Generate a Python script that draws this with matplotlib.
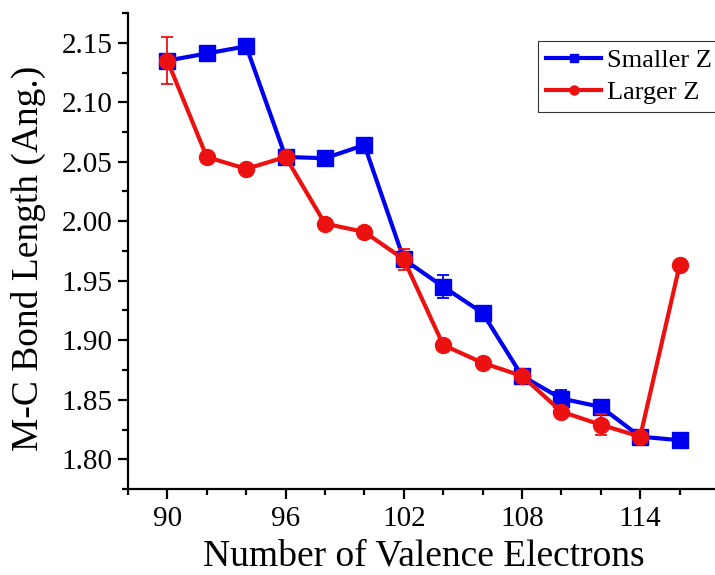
import matplotlib
matplotlib.use("Agg")
import matplotlib.pyplot as plt
from matplotlib.lines import Line2D
from matplotlib.ticker import MultipleLocator

plt.rcParams['font.family'] = ['Liberation Serif', 'DejaVu Serif']

# number of valence electrons
electrons = [90, 92, 94, 96, 98, 100, 102, 104, 106, 108, 110, 112, 114, 116]

# bond lengths (Ang.)
smaller_z = [2.135, 2.141, 2.147, 2.054, 2.053, 2.064, 1.968,
             1.945, 1.923, 1.870, 1.851, 1.844, 1.819, 1.816]
larger_z = [2.135, 2.054, 2.044, 2.054, 1.998, 1.991, 1.968,
            1.896, 1.881, 1.870, 1.840, 1.829, 1.819, 1.963]

# error bars (only some points have them)
smaller_err = [0, 0, 0, 0, 0, 0, 0, 0.0095, 0, 0, 0.007, 0, 0, 0]
larger_err = [0.020, 0, 0, 0, 0, 0, 0.009, 0, 0, 0, 0, 0.009, 0, 0]

blue = "#0000f0"
red = "#ec1111"

fig = plt.figure(figsize=(7.15, 5.75), dpi=100)
ax = fig.add_axes([128/715, 86/575, 591/715, 476/575])

ax.errorbar(electrons, smaller_z, yerr=smaller_err, color=blue, marker="s",
            markersize=11, linewidth=3, elinewidth=1.3, capsize=4.5,
            capthick=1.3, zorder=2)
ax.errorbar(electrons, larger_z, yerr=larger_err, color=red, marker="o",
            markersize=11.5, linewidth=3, elinewidth=1.3, capsize=4.5,
            capthick=1.3, zorder=3)

ax.set_xlim(88, 118)
ax.set_ylim(1.775, 2.175)
ax.xaxis.set_major_locator(MultipleLocator(6))
ax.xaxis.set_minor_locator(MultipleLocator(2))
ax.yaxis.set_major_locator(MultipleLocator(0.05))
ax.yaxis.set_minor_locator(MultipleLocator(0.025))
ax.yaxis.set_major_formatter(plt.FormatStrFormatter("%.2f"))

for s in ["top", "right"]:
    ax.spines[s].set_visible(False)
for s in ["left", "bottom"]:
    ax.spines[s].set_linewidth(1.6)

ax.tick_params(which="major", direction="out", length=7, width=1.6,
               labelsize=21, pad=4)
ax.tick_params(axis="x", which="major", pad=5)
ax.tick_params(which="minor", direction="out", length=4.5, width=1.6)

ax.set_xlabel("Number of Valence Electrons", fontsize=27, labelpad=5)
ax.set_ylabel("M-C Bond Length (Ang.)", fontsize=27)
ax.yaxis.set_label_coords(-0.139, 0.485)

handles = [
    Line2D([], [], color=blue, marker="s", markersize=6, linewidth=3),
    Line2D([], [], color=red, marker="o", markersize=6.5, linewidth=3),
]
leg = ax.legend(handles, ["Smaller Z", "Larger Z"], loc="upper left",
                bbox_to_anchor=(0.694, 0.941), borderaxespad=0, fontsize=19,
                frameon=True, fancybox=False, handlelength=2.1,
                handletextpad=0.2, borderpad=0.3, labelspacing=0.3)
leg.get_frame().set_edgecolor("black")
leg.get_frame().set_linewidth(0.8)

fig.savefig("out.png", dpi=100)
